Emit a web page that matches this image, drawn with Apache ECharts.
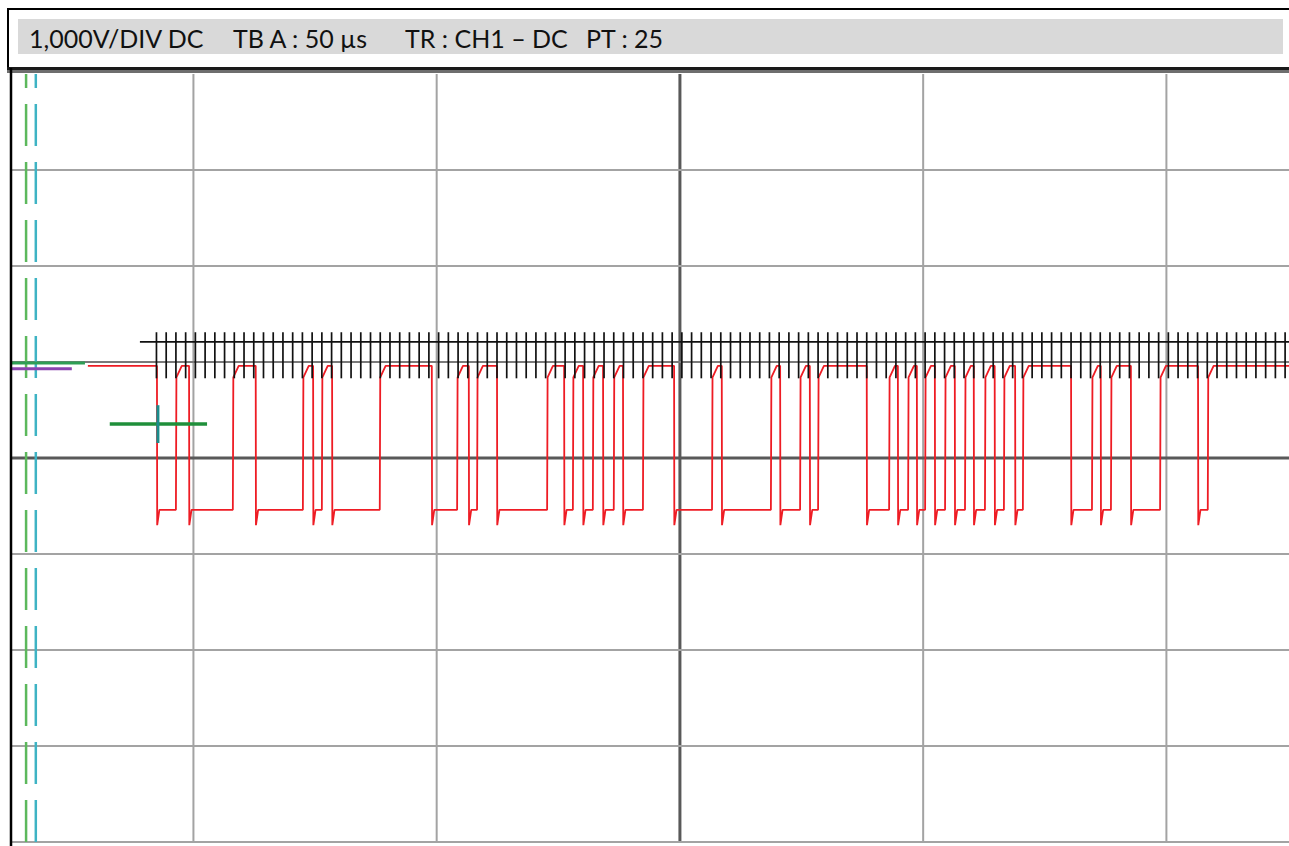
<!DOCTYPE html>
<html>
<head>
<meta charset="utf-8">
<title>CH1 trace</title>
<script src="https://cdn.jsdelivr.net/npm/echarts@6/dist/echarts.min.js"></script>
<style>
  html, body { margin: 0; padding: 0; background: #fff; }
  #chart { width: 1289px; height: 846px; }
</style>
</head>
<body>
<div id="chart"></div>
<script>
// screen divisions (50 us / div, 1 V / div)
const gridTimes = [150, 200, 250, 300, 350];
const gridVolts = [-4, -3, -2, -1, 0, 1, 2, 3];

// header text, one entry per field
const headerTexts = ['1,000V/DIV DC', 'TB A : 50 µs', 'TR : CH1 – DC', 'PT : 25'];

// CH1 edge times in us, first one falling, then alternating
const edgeTimes = [
  142.5, 146.4, 149.1, 158.1, 162.8, 172.5, 174.6, 176.4, 178.5, 188.3,
  199.0, 204.2, 206.6, 208.3, 212.4, 222.7, 226.2, 228.0, 230.1, 232.1,
  234.2, 236.4, 238.3, 242.4, 248.8, 256.6, 258.6, 268.7, 270.6, 274.7,
  276.7, 278.4, 288.4, 293.0, 294.8, 296.9, 298.7, 300.4, 302.4, 304.5,
  306.5, 308.6, 310.4, 312.7, 314.7, 316.6, 318.9, 320.5, 330.4, 334.7,
  336.5, 338.6, 342.7, 348.7, 356.5, 358.5
];
const traceStart = 128.3;
const traceHigh = 0.96;
const traceLow = -0.54;
const traceUndershoot = -0.7;
const traceKnee = 0.84;

// clock marks (PT : 25 -> 2 us)
const clockStart = 142.4;
const clockPeriod = 2.0;
const clockCount = 117;
const clockLineStart = 139.0;
const clockLevel = 1.21;
const clockTickTop = 1.31;
const clockTickBottom = 0.83;

// cursors and markers
const cursorGreen = 115.6;
const cursorTeal = 117.6;
const refGreen = [[112.5, 0.99], [127.7, 0.99]];
const refPurple = [[112.5, 0.93], [125.0, 0.93]];
const trigH = [[132.8, 0.354], [152.8, 0.354]];
const trigV = [[142.7, 0.55], [142.7, 0.156]];

const xMin = 112.5, xMax = 375.2, yMin = -4, yMax = 4;

// build the step trace from the edges
let trace = [[traceStart, traceHigh]];
edgeTimes.forEach((t, i) => {
  if (i % 2 === 0) {
    trace.push([t, traceHigh]);
    trace.push([t + 0.05, traceUndershoot]);
    trace.push([t + 0.5, traceLow]);
  } else {
    let next = i + 1 < edgeTimes.length ? edgeTimes[i + 1] : xMax;
    trace.push([t, traceLow]);
    trace.push([t + 0.1, traceKnee]);
    trace.push([Math.min(t + 1.2, next - 0.05), traceHigh]);
  }
});
trace.push([xMax, traceHigh]);

let clockTicks = [];
for (let k = 0; k < clockCount; k++) {
  clockTicks.push([clockStart + k * clockPeriod, clockLevel]);
}

let chart = echarts.init(document.getElementById('chart'), null, { renderer: 'svg' });

function segment(api, a, b, style) {
  let p1 = api.coord(a), p2 = api.coord(b);
  return { type: 'line', shape: { x1: p1[0], y1: p1[1], x2: p2[0], y2: p2[1] }, style: style };
}

let option = {
  animation: false,
  backgroundColor: '#fff',
  grid: { left: 11, right: 0, top: 74, bottom: 4 },
  xAxis: { type: 'value', min: xMin, max: xMax, show: false, splitLine: { show: false } },
  yAxis: { type: 'value', min: yMin, max: yMax, show: false, splitLine: { show: false } },
  series: [
    {
      // vertical divisions
      type: 'custom', silent: true, z: 1,
      data: gridTimes.map(t => [t, 0]),
      renderItem: (params, api) => {
        let t = api.value(0);
        let center = t === 250;
        return segment(api, [t, yMax], [t, yMin], {
          stroke: center ? '#595959' : '#a3a3a3', lineWidth: center ? 3 : 2
        });
      }
    },
    {
      // horizontal divisions
      type: 'custom', silent: true, z: 1,
      data: gridVolts.map(v => [xMin, v]),
      renderItem: (params, api) => {
        let v = api.value(1);
        let stroke = v === 0 ? '#595959' : (v === 1 ? '#7a7a7a' : '#a3a3a3');
        return segment(api, [xMin, v], [xMax, v], { stroke: stroke, lineWidth: v === 0 ? 3 : 2 });
      }
    },
    {
      type: 'line', silent: true, z: 2, symbol: 'none',
      data: [[cursorGreen, yMin], [cursorGreen, yMax]],
      lineStyle: { color: '#5cb85c', width: 2.5, type: [42, 16] }
    },
    {
      type: 'line', silent: true, z: 2, symbol: 'none',
      data: [[cursorTeal, yMin], [cursorTeal, yMax]],
      lineStyle: { color: '#3eb3c4', width: 2.5, type: [42, 16] }
    },
    {
      type: 'line', silent: true, z: 3, symbol: 'none',
      data: refPurple,
      lineStyle: { color: '#8a44b0', width: 3 }
    },
    {
      type: 'line', silent: true, z: 3, symbol: 'none',
      data: refGreen,
      lineStyle: { color: '#2f9e55', width: 3 }
    },
    {
      name: 'CH1', type: 'line', silent: true, z: 4, symbol: 'none',
      data: trace,
      lineStyle: { color: '#ee1c24', width: 1.8 }
    },
    {
      type: 'line', silent: true, z: 5, symbol: 'none',
      data: [[clockLineStart, clockLevel], [xMax, clockLevel]],
      lineStyle: { color: '#111', width: 1.8 }
    },
    {
      // clock marks
      type: 'custom', silent: true, z: 5,
      data: clockTicks,
      renderItem: (params, api) => {
        let t = api.value(0);
        return segment(api, [t, clockTickTop], [t, clockTickBottom], { stroke: '#111', lineWidth: 1.7 });
      }
    },
    {
      type: 'line', silent: true, z: 6, symbol: 'none',
      data: trigH,
      lineStyle: { color: '#1f8f3a', width: 3.5 }
    },
    {
      type: 'line', silent: true, z: 6, symbol: 'none',
      data: trigV,
      lineStyle: { color: '#1a8c8c', width: 3 }
    }
  ],
  graphic: [
    { type: 'rect', z: 100, shape: { x: 8, y: 9, width: 1300, height: 59 },
      style: { fill: '#fff', stroke: '#000', lineWidth: 2 } },
    { type: 'rect', z: 101, shape: { x: 18, y: 19, width: 1265, height: 35 },
      style: { fill: '#d9d9d9' } },
    { type: 'rect', z: 101, shape: { x: 7, y: 67, width: 1300, height: 3 },
      style: { fill: '#1a1a1a' } },
    { type: 'rect', z: 101, shape: { x: 7, y: 70, width: 1300, height: 3 },
      style: { fill: '#6e6e6e' } },
    { type: 'line', z: 101, shape: { x1: 11, y1: 68, x2: 11, y2: 846 },
      style: { stroke: '#000', lineWidth: 2.5 } },
    ...headerTexts.map((txt, i) => ({
      type: 'text', z: 102,
      x: [29, 233, 405, 586][i], y: 37.5,
      style: {
        text: txt, fill: '#111', font: '25px Lato', textVerticalAlign: 'middle'
      }
    }))
  ]
};

chart.setOption(option);
</script>
</body>
</html>
